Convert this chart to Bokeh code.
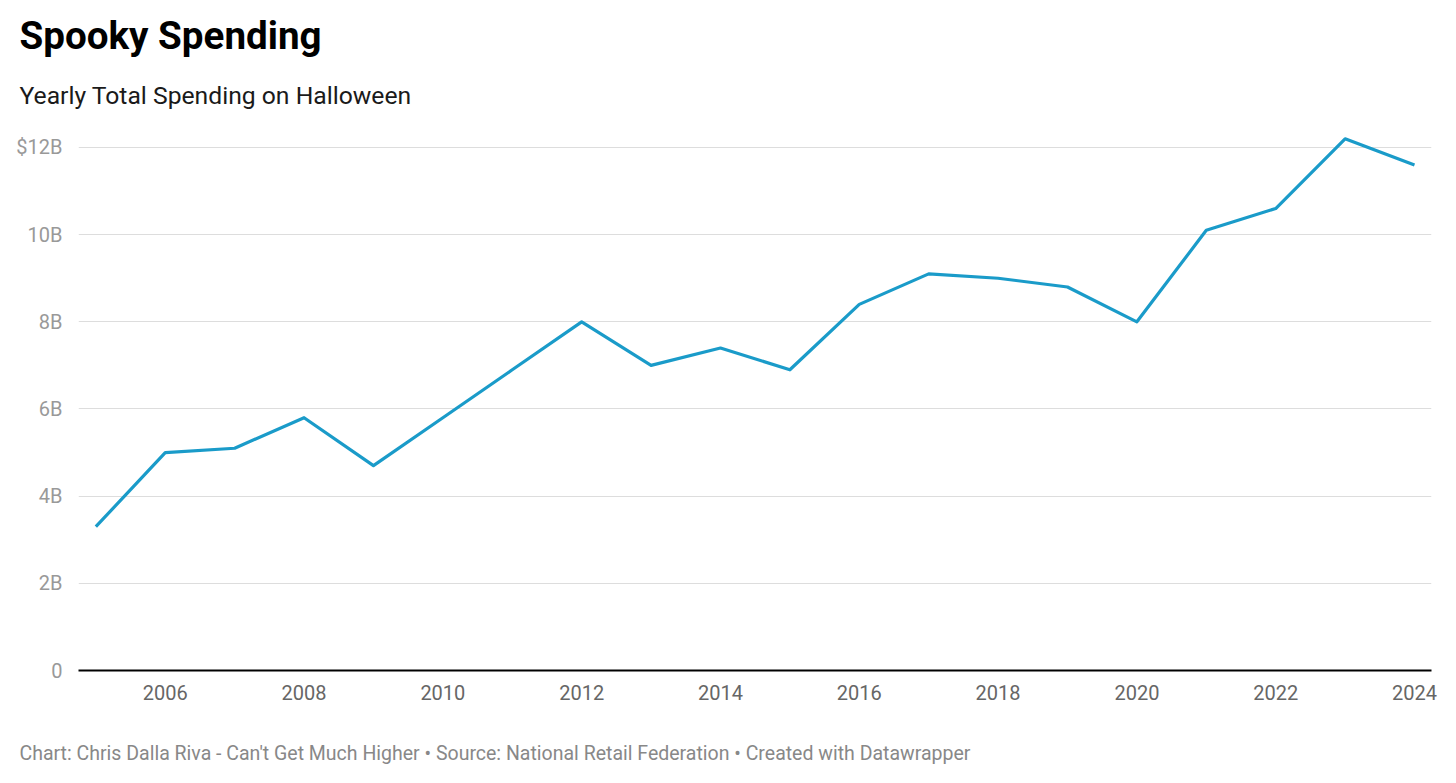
from bokeh.plotting import figure
from bokeh.models import Title, Range1d, FixedTicker, ColumnDataSource
from bokeh.embed import file_html
from bokeh.resources import INLINE

years = list(range(2005, 2025))
spending = [3.3, 5.0, 5.1, 5.8, 4.7, 5.8, 6.9, 8.0, 7.0, 7.4, 6.9, 8.4, 9.1, 9.0, 8.8, 8.0, 10.1, 10.6, 12.2, 11.6]
y_ticks = [0, 2, 4, 6, 8, 10, 12]
y_tick_labels = {0: "0", 2: "2B", 4: "4B", 6: "6B", 8: "8B", 10: "10B", 12: "$12B"}
x_ticks = list(range(2006, 2025, 2))

FONT = "Roboto"
H = 773

p = figure(width=1450, height=H, output_backend="svg", toolbar_location=None,
           x_range=Range1d(2004.75, 2024.245), y_range=Range1d(0, 12.39),
           min_border_left=78, min_border_right=19, min_border_top=0, min_border_bottom=0)
p.margin = (10, 0, 0, 0)
p.outline_line_color = None
p.background_fill_color = "white"
p.border_fill_color = "white"

src = ColumnDataSource(dict(x=years, y=spending))
p.line("x", "y", source=src, line_color="#1a9bc9", line_width=3.2, line_join="round")

# y axis
p.yaxis.ticker = FixedTicker(ticks=y_ticks)
p.yaxis.major_label_overrides = y_tick_labels
p.yaxis.axis_line_color = None
p.yaxis.major_tick_line_color = None
p.yaxis.minor_tick_line_color = None
p.yaxis.major_label_text_font = FONT
p.yaxis.major_label_text_font_size = "20px"
p.yaxis.major_label_text_color = "#999999"
p.yaxis.major_label_standoff = 10

# x axis
p.xaxis.ticker = FixedTicker(ticks=x_ticks)
p.xaxis.axis_line_color = "black"
p.xaxis.axis_line_width = 2
p.xaxis.major_tick_line_color = None
p.xaxis.minor_tick_line_color = None
p.xaxis.major_label_text_font = FONT
p.xaxis.major_label_text_font_size = "20px"
p.xaxis.major_label_text_color = "#666666"
p.xaxis.major_label_standoff = 8

p.xgrid.grid_line_color = None
p.ygrid.ticker = FixedTicker(ticks=[2, 4, 6, 8, 10, 12])
p.ygrid.grid_line_color = "#dddddd"
p.ygrid.grid_line_width = 1

p.add_layout(Title(text="Yearly Total Spending on Halloween", text_font=FONT, text_font_size="24.7px",
                   text_font_style="normal", text_color="#1a1a1a", align="left", offset=-59, standoff=42), "above")
p.add_layout(Title(text="Spooky Spending", text_font=FONT, text_font_size="38.6px",
                   text_font_style="bold", text_color="#000000", align="left", offset=-59, standoff=0), "above")
# spacer between x axis and footer
p.add_layout(Title(text=" ", text_font=FONT, text_font_size="1px", align="left", standoff=16), "below")
p.add_layout(Title(text="Chart: Chris Dalla Riva - Can't Get Much Higher \u2022 Source: National Retail Federation \u2022 Created with Datawrapper",
                   text_font=FONT, text_font_size="19.5px", text_font_style="normal", text_color="#888888",
                   align="left", offset=-59, standoff=37), "below")

open("out.html", "w").write(file_html(p, INLINE))
